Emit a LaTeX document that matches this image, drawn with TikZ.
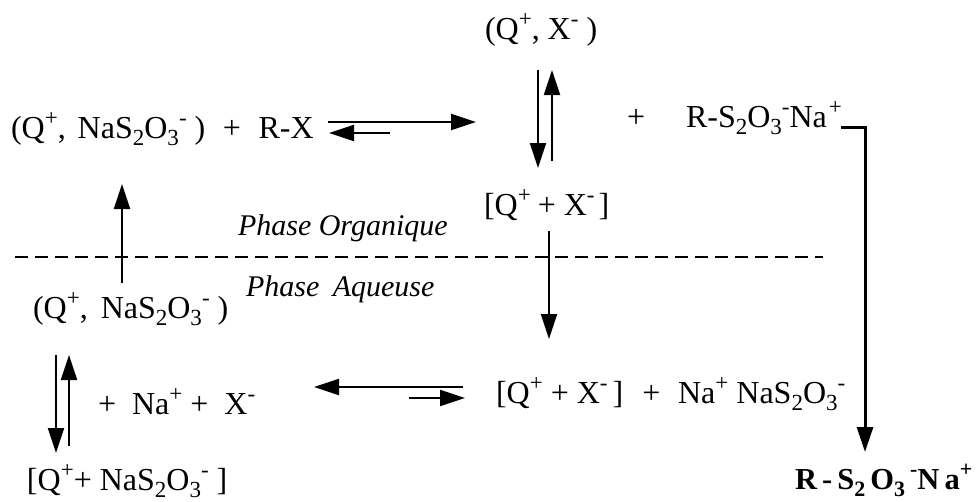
\documentclass[tikz,border=0pt]{standalone}
\usepackage{fontspec}
\setmainfont{Liberation Serif}
\usetikzlibrary{arrows.meta}
\newcommand{\ssub}[1]{\raisebox{-0.24em}{\scalebox{0.72}{#1}}}
\newcommand{\ssup}[1]{\raisebox{0.40em}{\scalebox{0.72}{#1}}}
\tikzset{
  chem/.style={anchor=base west,inner sep=0pt,outer sep=0pt,font=\fontsize{32}{38}\selectfont},
  phase/.style={chem,font=\fontsize{30}{36}\selectfont\itshape},
  prod/.style={chem,font=\fontsize{30.5}{36}\selectfont\bfseries},
  rxn/.style={line width=2.2pt,-{Triangle[length=25pt,width=16pt]}},
  rxnthick/.style={line width=3pt,-{Triangle[length=25pt,width=16pt]}},
  sep/.style={line width=1.7pt,dash pattern=on 13pt off 7pt}
}
\begin{document}
\begin{tikzpicture}[x=1pt,y=-1pt]
\useasboundingbox (0,0) rectangle (976,501);
% text
\node[chem] (t1) at (11,138) {(Q\ssup{+},\hspace{4pt} NaS\ssub{2}O\ssub{3}\ssup{-} )\hspace{0.55em}+\hspace{0.55em}R-X};
\node[chem] (t2) at (485,39) {(Q\ssup{+}, X\ssup{-} )};
\node[chem] (t3) at (627,127) {+};
\node[chem] (t4) at (686,127) {R-S\ssub{2}O\ssub{3}\ssup{-}Na\hspace{2pt}\ssup{+}};
\node[chem] (t5) at (484,215) {[Q\ssup{+}\hspace{-1pt} + X\ssup{-}\hspace{-4pt} ]};
\node[phase] (po) at (238,235) {Phase Organique};
\node[phase] (pa) at (246,296) {Phase\hspace{6pt} Aqueuse};
\node[chem] (t6) at (33,318) {(Q\ssup{+},\hspace{5pt} NaS\ssub{2}O\ssub{3}\ssup{-} )};
\node[chem] (t7) at (98,414) {+\hspace{0.5em}Na\ssup{+} +\hspace{0.5em}X\ssup{-}};
\node[chem] (t8) at (496,403) {[Q\ssup{+} + X\ssup{-}\hspace{-3pt} ]\hspace{0.6em}+\hspace{0.55em}Na\ssup{+} NaS\ssub{2}O\ssub{3}\ssup{-}};
\node[chem] (t9) at (27,490) {[Q\ssup{+}+ NaS\ssub{2}O\ssub{3}\ssup{-} ]};
\node[prod] (t10) at (795,489) {R\,-\,S\ssub{2}\,O\ssub{3}\,\ssup{-}N\,a\ssup{+}};
% connector ends
\coordinate (a1s) at (328,122); \coordinate (a1e) at (476,122);
\coordinate (a2s) at (390,133); \coordinate (a2e) at (329,133);
\coordinate (a3s) at (538,70);  \coordinate (a3e) at (538,168);
\coordinate (a4s) at (552,161); \coordinate (a4e) at (552,70);
\coordinate (a5s) at (122,283); \coordinate (a5e) at (122,184);
\coordinate (a6s) at (549,231); \coordinate (a6e) at (549,339);
\coordinate (a7s) at (56,355);  \coordinate (a7e) at (56,453);
\coordinate (a8s) at (69,446);  \coordinate (a8e) at (69,355);
\coordinate (a9s) at (463,387); \coordinate (a9e) at (314,387);
\coordinate (a10s) at (409,398);\coordinate (a10e) at (465,398);
\coordinate (b1) at (841,127);  \coordinate (b2) at (865,127); \coordinate (b3) at (865,452);
\coordinate (d1) at (15,257);   \coordinate (d2) at (823,257);
% lines
\draw[sep] (d1) -- (d2);
\draw[rxn] (a1s) -- (a1e);
\draw[rxn] (a2s) -- (a2e);
\draw[rxn] (a3s) -- (a3e);
\draw[rxn] (a4s) -- (a4e);
\draw[rxn] (a5s) -- (a5e);
\draw[rxn] (a6s) -- (a6e);
\draw[rxn] (a7s) -- (a7e);
\draw[rxn] (a8s) -- (a8e);
\draw[rxn] (a9s) -- (a9e);
\draw[rxn] (a10s) -- (a10e);
\draw[rxnthick] (b1) -- (b2) -- (b3);
\end{tikzpicture}
\end{document}
